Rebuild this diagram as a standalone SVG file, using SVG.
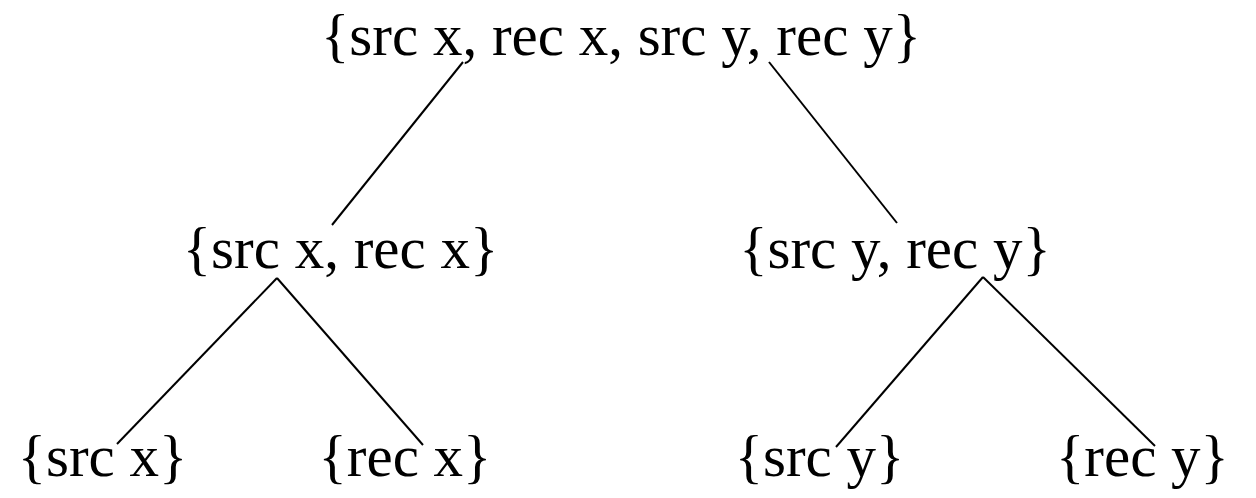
<svg xmlns="http://www.w3.org/2000/svg" width="1256" height="498" viewBox="0 0 1256 498">
<style>
.t{font-family:"Liberation Serif","Times New Roman",serif;font-size:59px;fill:#000;text-anchor:middle}
.e{stroke:#000;stroke-width:2;fill:none}
</style>
<rect width="1256" height="498" fill="#fff"/>
<g id="connectors">
<line class="e" x1="463" y1="62" x2="332" y2="225"/>
<line class="e" x1="769" y1="62" x2="897" y2="223"/>
<line class="e" x1="277" y1="278" x2="117" y2="444"/>
<line class="e" x1="277" y1="278" x2="423" y2="445"/>
<line class="e" x1="983" y1="277" x2="836" y2="447"/>
<line class="e" x1="983" y1="277" x2="1155" y2="446"/>
</g>
<g id="root"><text class="t" x="621" y="55">{src x, rec x, src y, rec y}</text></g>
<g id="x-pair"><text class="t" x="340.5" y="268">{src x, rec x}</text></g>
<g id="y-pair"><text class="t" x="895" y="268">{src y, rec y}</text></g>
<g id="src-x"><text class="t" x="102.5" y="476">{src x}</text></g>
<g id="rec-x"><text class="t" x="405" y="476">{rec x}</text></g>
<g id="src-y"><text class="t" x="819.5" y="476">{src y}</text></g>
<g id="rec-y"><text class="t" x="1142.5" y="476">{rec y}</text></g>
</svg>
